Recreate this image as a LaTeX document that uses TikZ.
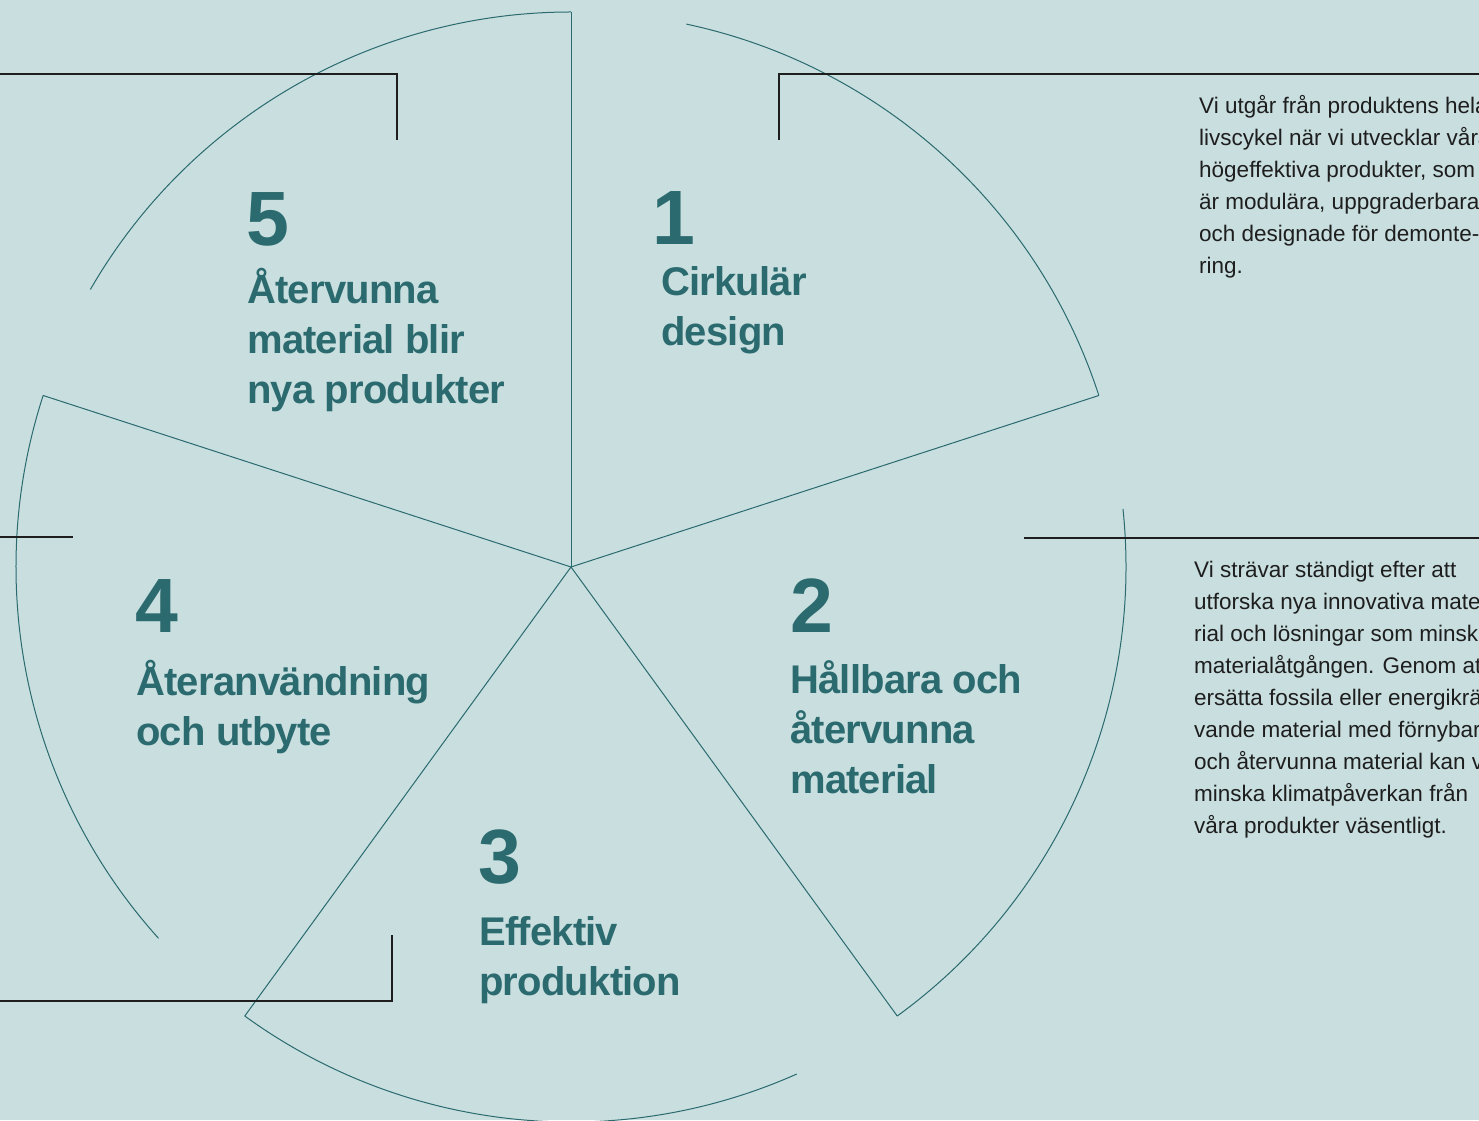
\documentclass[tikz,border=0pt]{standalone}
\usepackage{fontspec}
\setmainfont{Liberation Sans}
\newfontfamily\headfont[LetterSpace=-2.0]{Liberation Sans}
\definecolor{bgmint}{HTML}{C8DEDF}
\definecolor{piepetrol}{HTML}{2B6A6E}
\definecolor{inkgray}{HTML}{1E1E1E}
\begin{document}
\begin{tikzpicture}[x=1pt,y=1pt,
    spoke/.style={piepetrol, line width=1pt},
    bracket/.style={inkgray, line width=1.5pt},
    num/.style={anchor=base west, inner sep=0pt, text=piepetrol, font=\headfont\bfseries\fontsize{77}{77}\selectfont},
    head/.style={anchor=base west, inner sep=0pt, align=left, text=piepetrol, font=\headfont\bfseries\fontsize{40}{50}\selectfont},
    body/.style={anchor=base west, inner sep=0pt, align=left, text=inkgray, font=\fontsize{22.5}{32}\selectfont}]
    \clip (0,0) rectangle (1479,1120);
    \fill[bgmint] (0,0) rectangle (1479,1120);
    \coordinate (hub) at (571,553);
    \foreach \a in {90,18,-54,-126,162}{
        \draw[spoke] (hub) -- ++(\a:555);
        \draw[spoke] (hub) ++(\a:555) arc[start angle=\a, end angle=\a+60, radius=555];
    }
    \draw[bracket] (0,1046) -- (397,1046) -- (397,980);
    \draw[bracket] (779,980) -- (779,1046) -- (1479,1046);
    \draw[bracket] (1024,582) -- (1479,582);
    \draw[bracket] (0,583) -- (73,583);
    \draw[bracket] (0,119) -- (392,119) -- (392,185);
    \node[num] (n1) at (652,875) {1};
    \node[head] (h1) at (661,774) {Cirkulär\\design};
    \node[num] (n2) at (790,487) {2};
    \node[head] (h2) at (790,327) {Hållbara och\\återvunna\\material};
    \node[num] (n3) at (478,237) {3};
    \node[head] (h3) at (479,125) {Effektiv\\produktion};
    \node[num] (n4) at (135,487) {4};
    \node[head] (h4) at (136,375) {Återanvändning\\och utbyte};
    \node[num] (n5) at (246,874) {5};
    \node[head] (h5) at (247,716) {Återvunna\\material blir\\nya produkter};
    \node[body] (t1) at (1199,846) {Vi utgår från produktens hela\\livscykel när vi utvecklar våra\\högeffektiva produkter, som\\är modulära, uppgraderbara\\och designade för demonte-\\ring.};
    \node[body] (t2) at (1194,287) {Vi strävar ständigt efter att\\utforska nya innovativa mate-\\rial och lösningar som minskar\\materialåtgången. Genom att\\ersätta fossila eller energikrä-\\vande material med förnybara\\och återvunna material kan vi\\minska klimatpåverkan från\\våra produkter väsentligt.};
\end{tikzpicture}
\end{document}
